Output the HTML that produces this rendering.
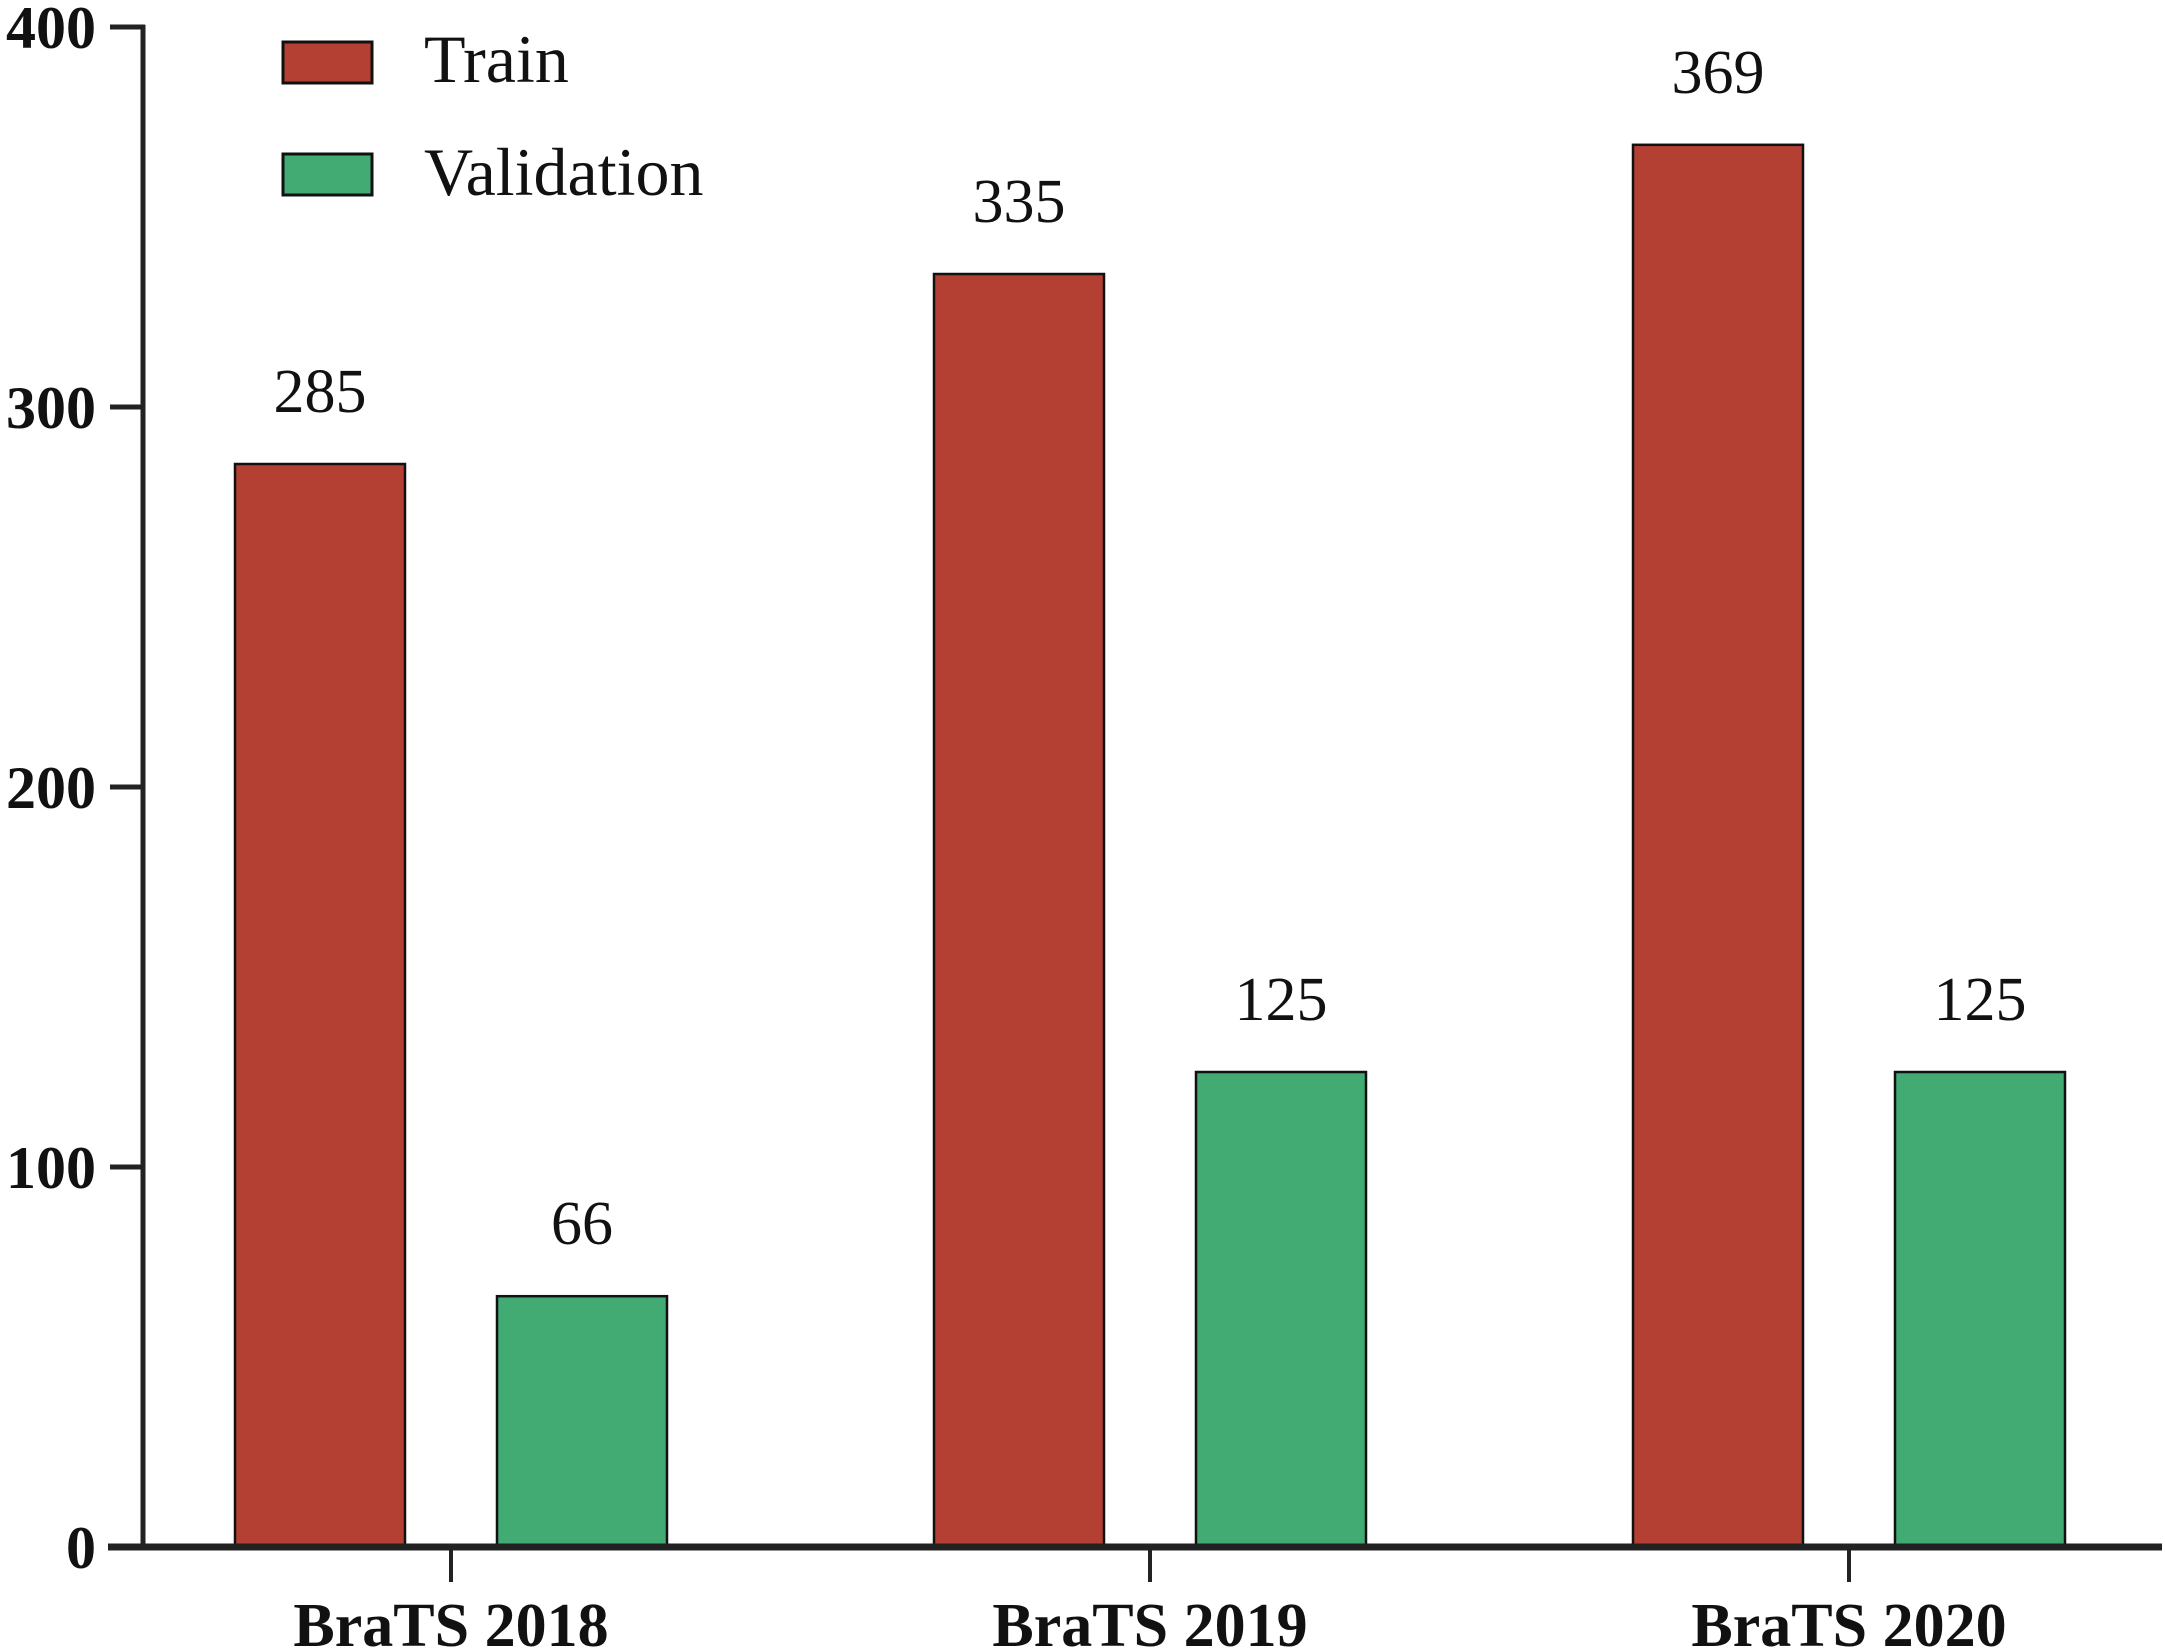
<!DOCTYPE html>
<html><head><meta charset="utf-8"><style>
html,body{margin:0;padding:0;background:#fff;}
svg{display:block;}
text{font-family:"Liberation Serif",serif;fill:#111;}
</style></head><body>
<svg id="chart" width="2165" height="1652" viewBox="0 0 2165 1652" xmlns="http://www.w3.org/2000/svg">
<g id="legend">
<rect x="283" y="42" width="89" height="41" fill="#B34032" stroke="#111" stroke-width="3"/>
<text x="424" y="82" font-size="68">Train</text>
<rect x="283" y="154" width="89" height="41" fill="#41AB73" stroke="#111" stroke-width="3"/>
<text x="424" y="195" font-size="68">Validation</text>
</g>
</svg>
<script>
const categories = ["BraTS 2018", "BraTS 2019", "BraTS 2020"];
const trainValues = [285, 335, 369];
const validationValues = [66, 125, 125];
const yTicks = [0, 100, 200, 300, 400];

const svg = document.getElementById('chart');
const NS = 'http://www.w3.org/2000/svg';
const y0 = 1547, yTop = 27, yMax = 400;
const yScale = v => y0 - (y0 - yTop) * v / yMax;
const xCenter = i => 451 + i * 699;
const barW = 170, off = 131;

function mk(tag, attrs, parent) {
  const el = document.createElementNS(NS, tag);
  for (const k in attrs) el.setAttribute(k, attrs[k]);
  (parent || svg).appendChild(el);
  return el;
}

categories.forEach((c, i) => {
  const cx = xCenter(i);
  [[trainValues[i], -off, '#B34032', 'train'], [validationValues[i], off, '#41AB73', 'validation']].forEach(([v, o, col, s]) => {
    const r = mk('rect', {x: cx + o - barW / 2, y: yScale(v), width: barW, height: y0 - yScale(v), fill: col, stroke: '#111', 'stroke-width': 2.5});
    
    
    const t = mk('text', {x: cx + o, y: yScale(v) - 52, 'font-size': 62, 'text-anchor': 'middle'});
    t.textContent = v;
    
    
  });
  const tk = mk('line', {x1: cx, x2: cx, y1: y0, y2: 1582, stroke: '#222', 'stroke-width': 4});
  
  
  const lb = mk('text', {x: cx, y: 1646, 'font-size': 62, 'font-weight': 'bold', 'text-anchor': 'middle'});
  lb.textContent = c;
  
  
});

yTicks.forEach(v => {
  const y = yScale(v);
  const tk = mk('line', {x1: 110, x2: 145, y1: y, y2: y, stroke: '#222', 'stroke-width': 5});
  
  
  const t = mk('text', {x: 96, y: y + 21, 'font-size': 60, 'font-weight': 'bold', 'text-anchor': 'end'});
  t.textContent = v;
  
  
});

const ya = mk('line', {x1: 143, x2: 143, y1: yTop - 2, y2: y0, stroke: '#222', 'stroke-width': 5});


const xa = mk('line', {x1: 108, x2: 2162, y1: y0, y2: y0, stroke: '#222', 'stroke-width': 7});


</script>
</body></html>
